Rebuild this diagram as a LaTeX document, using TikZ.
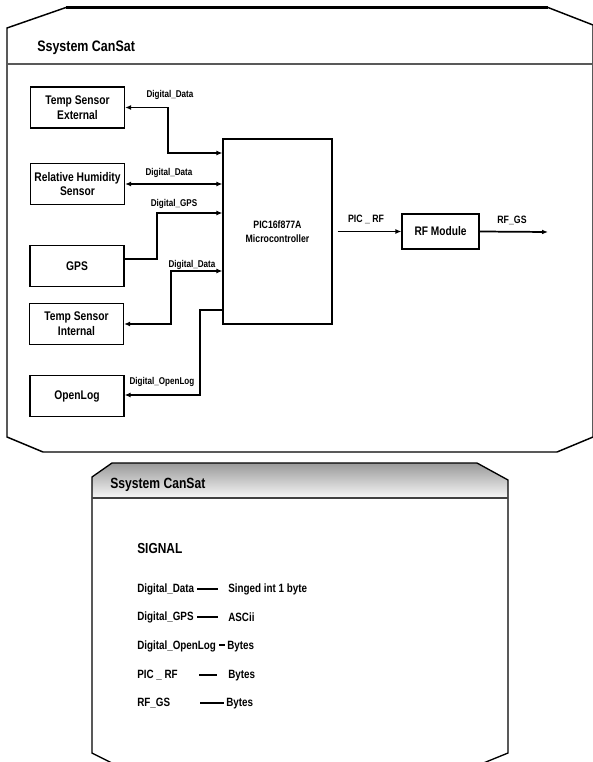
\documentclass[tikz,border=0pt]{standalone}
\usepackage{fontspec}
\usetikzlibrary{arrows.meta}
\newfontfamily\nar{Liberation Sans}[FakeStretch=0.82]
\newcommand\fsz[2]{\fontsize{#1}{#2}\selectfont}
\begin{document}
\begin{tikzpicture}[x=0.75pt,y=-0.75pt,
  blk/.style={draw,line width=0.8pt,inner sep=0pt,minimum width=70.5pt,minimum height=30.75pt,align=center,font=\nar\bfseries\fsz{9.4pt}{11.2pt}},
  lbl/.style={inner sep=0pt,font=\nar\bfseries\fsz{7.4pt}{8pt}},
  tbl/.style={inner sep=0pt,anchor=west,font=\nar\bfseries\fsz{9pt}{10pt}},
  con/.style={line width=1pt},
  tip/.style={-{Latex[length=4.5pt,width=3.6pt]}},
  dtip/.style={{Latex[length=4.5pt,width=3.6pt]}-{Latex[length=4.5pt,width=3.6pt]}}
]
\useasboundingbox (0,0) rectangle (592,762);
\fill[white] (0,0) rectangle (592,762);
% outer frame 1
\draw[line width=1.1pt] (7,28) -- (66,7.5) -- (548,7.5) -- (593,25) -- (593,437) -- (557,452) -- (43,452) -- (7,437) -- cycle;
\draw[line width=2pt] (66,7.5) -- (548,7.5);
\draw[line width=1.6pt,black!65] (7,64) -- (593,64);
\node[anchor=west,inner sep=0pt,font=\nar\bfseries\fsz{11.4pt}{12pt}] (t1) at (37,48) {Ssystem CanSat};
% blocks
\node[blk] (tse) at (77.5,107.5) {Temp Sensor\\External};
\node[blk] (rh) at (77.5,184) {Relative Humidity\\Sensor};
\node[blk] (gps) at (77,266) {GPS};
\node[blk] (tsi) at (76.5,324) {Temp Sensor\\Internal};
\node[blk] (olog) at (77,396) {OpenLog};
\node[draw,line width=0.8pt,inner sep=0pt,minimum width=81.75pt,minimum height=138.75pt,align=center,font=\nar\bfseries\fsz{8pt}{10.5pt}] (pic) at (277.5,231.5) {PIC16f877A\\Microcontroller};
\node[blk,minimum width=57.75pt,minimum height=26.25pt,font=\nar\bfseries\fsz{9.3pt}{10pt}] (rf) at (440.5,231.5) {RF Module};
\coordinate (gsout) at (548,232);
% connectors
\draw[con,dtip] (tse.east) -- (168,107.5) -- (168,153) -- (pic.west |- 0,153);
\draw[con,dtip,line width=1.3pt] (rh.east) -- (pic.west |- rh.east);
\draw[con,tip] (gps.east |- 0,259) -- (157,259) -- (157,213) -- (pic.west |- 0,213);
\draw[con,dtip] (tsi.east) -- (171,324) -- (171,271) -- (pic.west |- 0,271);
\draw[con,tip] (pic.west |- 0,310) -- (200,310) -- (200,395) -- (olog.east |- 0,395);
\draw[con,tip] ([xshift=3.75pt]pic.east |- rf.west) -- (rf.west);
\draw[con,tip,line width=1.3pt] (rf.east) -- (gsout);
% labels
\node[lbl] (l1) at (170,95) {Digital\_Data};
\node[lbl] (l2) at (169,173) {Digital\_Data};
\node[lbl] (l3) at (174,204) {Digital\_GPS};
\node[lbl] (l4) at (192,264.5) {Digital\_Data};
\node[lbl] (l5) at (162,382) {Digital\_OpenLog};
\node[lbl,font=\nar\bfseries\fsz{8pt}{9pt}] (l6) at (366,219) {PIC \_ RF};
\node[lbl,font=\nar\bfseries\fsz{8pt}{9pt}] (l7) at (512,220) {RF\_GS};
% frame 2
\shade[top color=black!40,bottom color=black!3] (92,477) -- (112,463) -- (477,463) -- (508,480) -- (508,498) -- (92,498) -- cycle;
\draw[line width=1pt] (92,477) -- (112,463) -- (477,463) -- (508,480) -- (508,753) -- (481,764) -- (114,764) -- (92,753) -- cycle;
\draw[line width=1.2pt,black!75] (92,498) -- (508,498);
\node[anchor=west,inner sep=0pt,font=\nar\bfseries\fsz{11.1pt}{12pt}] (t2) at (110,485) {Ssystem CanSat};
\node[anchor=west,inner sep=0pt,font=\nar\bfseries\fsz{10.9pt}{12pt}] (sig) at (137,548) {SIGNAL};
% table
\node[tbl] (a1) at (137,589) {Digital\_Data};
\node[tbl] (b1) at (228,589) {Singed int 1 byte};
\draw[con,line width=1.2pt] (197,589) -- (218,589);
\node[tbl] (a2) at (137,617) {Digital\_GPS};
\node[tbl] (b2) at (228,617) {ASCii};
\draw[con,line width=1.2pt] (197,617) -- (218,617);
\node[tbl] (a3) at (137,646) {Digital\_OpenLog};
\node[tbl] (b3) at (227,647) {Bytes};
\draw[con,line width=1.2pt] (219,645) -- (225,645);
\node[tbl] (a4) at (137,675) {PIC \_ RF};
\node[tbl] (b4) at (228,676) {Bytes};
\draw[con,line width=1.2pt] (199,675) -- (217,675);
\node[tbl] (a5) at (137,703) {RF\_GS};
\node[tbl] (b5) at (226,704) {Bytes};
\draw[con,line width=1.2pt] (200,703) -- (224,703);
\end{tikzpicture}
\end{document}
